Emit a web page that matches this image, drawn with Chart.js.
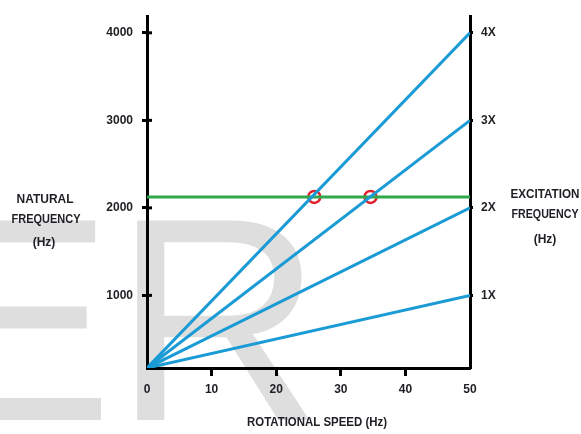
<!DOCTYPE html>
<html>
<head>
<meta charset="utf-8">
<script src="https://cdn.jsdelivr.net/npm/chart.js@4/dist/chart.umd.min.js"></script>
<style>
  html, body { margin: 0; padding: 0; background: #fff; }
  #wrap { width: 581px; height: 434px; position: relative; }
</style>
</head>
<body>
<div id="wrap"><canvas id="chart"></canvas></div>
<script>
// values
const speedStart = 0;
const speedEnd = 50;
const freqStart = 170;               // where all the order lines meet at the origin
const orderEnds = [1000, 2000, 3000, 4000];
const orderLabels = ['1X', '2X', '3X', '4X'];
const naturalFreq = 2125;
const crossingSpeeds = [25.9, 34.6];
const xTicks = [0, 10, 20, 30, 40, 50];
const yTicks = [1000, 2000, 3000, 4000];
const yMin = 170;
const yMax = 4190;

const blue = '#1b9bd5';
const green = '#2ea84a';
const red = '#e0202c';
const ink = '#1e1e24';
const bold = { family: 'Liberation Sans', size: 12, weight: 'bold' };

let datasets = [];
for (let i = 0; i < orderEnds.length; i++) {
    datasets.push({
        label: orderLabels[i],
        data: [{ x: speedStart, y: freqStart }, { x: speedEnd, y: orderEnds[i] }],
        borderColor: blue,
        borderWidth: 3,
        pointRadius: 0
    });
}
datasets.push({
    label: 'Natural frequency',
    data: [{ x: speedStart, y: naturalFreq }, { x: speedEnd, y: naturalFreq }],
    borderColor: green,
    borderWidth: 3,
    pointRadius: 0
});
datasets.push({
    label: 'Crossings',
    data: crossingSpeeds.map(s => ({ x: s, y: naturalFreq })),
    showLine: false,
    pointStyle: 'circle',
    pointRadius: 6,
    pointBorderWidth: 2.5,
    pointBorderColor: red,
    pointBackgroundColor: 'rgba(0,0,0,0)'
});

// gray "ER" watermark behind the plot, plus axis titles
const decorations = {
    id: 'decorations',
    beforeDraw(chart) {
        const ctx = chart.ctx;
        ctx.save();
        ctx.fillStyle = '#dedede';
        ctx.font = '290px "Liberation Sans"';
        ctx.textBaseline = 'alphabetic';
        ctx.textAlign = 'left';
        ctx.fillText('ER', -80, 420);
        ctx.restore();
    },
    afterDraw(chart) {
        const ctx = chart.ctx;
        const y = chart.scales.y;
        const x = chart.scales.x;
        ctx.save();
        // inner half of the tick marks on the left axis
        ctx.strokeStyle = '#000';
        ctx.lineWidth = 3;
        for (let v of yTicks) {
            const py = y.getPixelForValue(v);
            ctx.beginPath();
            ctx.moveTo(x.left, py);
            ctx.lineTo(x.left + 5, py);
            ctx.stroke();
        }
        ctx.fillStyle = ink;
        ctx.font = 'bold 12px "Liberation Sans"';
        ctx.textAlign = 'center';
        ctx.textBaseline = 'middle';
        ctx.fillText('NATURAL', 45, 200, 57);
        ctx.fillText('FREQUENCY', 46, 220, 69);
        ctx.fillText('(Hz)', 44, 243);
        ctx.fillText('EXCITATION', 545, 195, 69);
        ctx.fillText('FREQUENCY', 545, 215, 67);
        ctx.fillText('(Hz)', 545, 240);
        ctx.fillText('ROTATIONAL SPEED (Hz)', 317, 423, 140);
        ctx.restore();
    }
};

new Chart(document.getElementById('chart'), {
    type: 'line',
    data: { datasets: datasets },
    options: {
        responsive: true,
        maintainAspectRatio: false,
        animation: false,
        layout: { padding: { top: 15, left: 0, right: 0, bottom: 0 } },
        plugins: {
            legend: { display: false },
            tooltip: { enabled: false }
        },
        scales: {
            x: {
                type: 'linear',
                min: speedStart,
                max: speedEnd,
                afterBuildTicks: s => { s.ticks = xTicks.map(v => ({ value: v })); },
                afterFit: s => { s.height = 66; },
                ticks: { font: bold, color: ink, padding: 6, maxRotation: 0, callback: v => String(v) },
                grid: {
                    drawOnChartArea: false,
                    tickLength: 8,
                    tickWidth: 3,
                    tickColor: ctx => (ctx.tick && (ctx.tick.value === 0 || ctx.tick.value === 50)) ? 'rgba(0,0,0,0)' : '#000'
                },
                border: { display: true, color: '#000', width: 3 }
            },
            y: {
                position: 'left',
                min: yMin,
                max: yMax,
                afterBuildTicks: s => { s.ticks = yTicks.map(v => ({ value: v })); },
                afterFit: s => { s.width = 147; },
                ticks: { font: bold, color: ink, padding: 9, callback: v => String(v) },
                grid: { drawOnChartArea: false, tickLength: 5, tickWidth: 3, tickColor: '#000' },
                border: { display: true, color: '#000', width: 3 }
            },
            y2: {
                position: 'right',
                min: yMin,
                max: yMax,
                afterBuildTicks: s => { s.ticks = yTicks.map(v => ({ value: v })); },
                afterFit: s => { s.width = 111; },
                ticks: {
                    font: bold,
                    color: ink,
                    padding: 8,
                    callback: v => orderLabels[yTicks.indexOf(v)]
                },
                grid: { drawOnChartArea: false, tickLength: 3, tickWidth: 3, tickColor: '#000' },
                border: { display: true, color: '#000', width: 3 }
            }
        }
    },
    plugins: [decorations]
});
</script>
</body>
</html>
